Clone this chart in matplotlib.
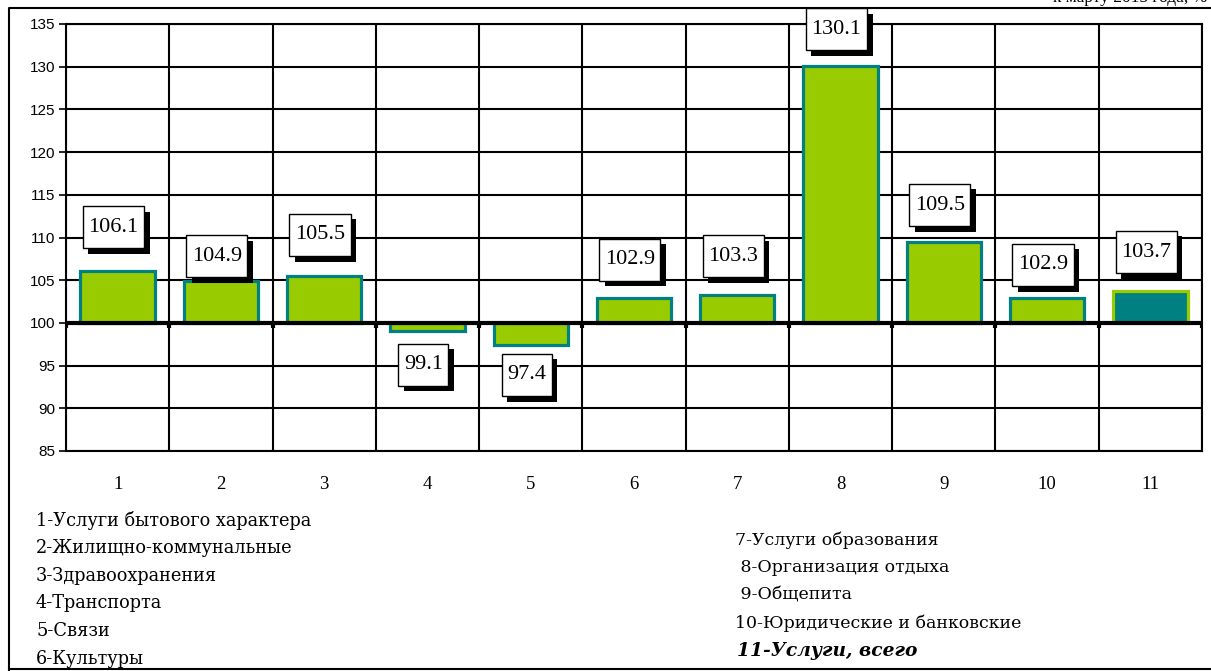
import matplotlib.pyplot as plt
from matplotlib import patheffects
from matplotlib.lines import Line2D

# Indizes der Dienstleistungen (1..11) und Werte in % zum Vorjahr
categories = ["1", "2", "3", "4", "5", "6", "7", "8", "9", "10", "11"]
values = [106.1, 104.9, 105.5, 99.1, 97.4, 102.9, 103.3, 130.1, 109.5, 102.9, 103.7]

legend_left = [
    "1-Услуги бытового характера",
    "2-Жилищно-коммунальные",
    "3-Здравоохранения",
    "4-Транспорта",
    "5-Связи",
    "6-Культуры",
]
legend_right = [
    "7-Услуги образования",
    " 8-Организация отдыха",
    " 9-Общепита",
    "10-Юридические и банковские",
]
legend_total = "11-Услуги, всего"

# Lage der Wertkaestchen (y in Achsenwerten)
label_y = [111.2, 107.8, 110.3, 95.1, 93.9, 107.4, 107.8, 134.4, 113.8, 106.8, 108.3]

lime = "#99cc00"
teal = "#008080"
base = 100

fig = plt.figure(figsize=(12.11, 6.71), dpi=100)
ax = fig.add_axes([66 / 1211, 1 - 451 / 671, 1136 / 1211, 427 / 671])

x = list(range(len(categories)))
heights = [v - base for v in values]
face = [lime] * (len(values) - 1) + [teal]
edge = [teal] * (len(values) - 1) + [lime]
ax.bar(x, heights, bottom=base, width=0.72, color=face, edgecolor=edge,
       linewidth=2.3, zorder=3)

ax.set_xlim(-0.5, len(categories) - 0.5)
ax.set_ylim(85, 135)
ax.set_yticks(range(85, 136, 5))
ax.set_xticks(x)
ax.set_xticklabels(categories, family="Liberation Serif", fontsize=13.5)
ax.tick_params(axis="x", length=0, pad=18)
ax.tick_params(axis="y", length=5, width=1.2, labelsize=11, pad=3)
for lab in ax.get_yticklabels():
    lab.set_family("Liberation Sans")

# Gitter: waagerecht bei jedem Tick, senkrecht an den Kategoriegrenzen
ax.grid(axis="y", color="black", linewidth=1.5, zorder=1)
for b in range(len(categories) + 1):
    ax.axvline(b - 0.5, color="black", linewidth=1.5, zorder=1)
for s in ax.spines.values():
    s.set_linewidth(1.5)

# Basislinie bei 100 mit kleinen Strichen
ax.axhline(base, color="black", linewidth=3, zorder=4)
ax.vlines([b - 0.5 for b in range(len(categories) + 1)], base - 0.6, base,
          color="black", linewidth=3, zorder=4)

shadow = [patheffects.SimplePatchShadow(offset=(4, -4), shadow_rgbFace="black", alpha=1),
          patheffects.Normal()]
for i, (v, ly) in enumerate(zip(values, label_y)):
    t = ax.text(i - 0.04, ly, f"{v:.1f}", ha="center", va="center",
                family="Liberation Serif", fontsize=16, zorder=6, clip_on=False,
                bbox=dict(boxstyle="square,pad=0.25", mutation_aspect=2.1,
                          facecolor="white", edgecolor="black", linewidth=1))
    t.get_bbox_patch().set_path_effects(shadow)

# Legende als Text unter dem Diagramm
for k, s in enumerate(legend_left):
    fig.text(36 / 1211, 1 - (520 + 27.8 * k) / 671, s, family="DejaVu Serif",
             fontsize=12.8, va="center")
for k, s in enumerate(legend_right):
    fig.text(735 / 1211, 1 - (540 + 27.7 * k) / 671, s, family="DejaVu Serif",
             fontsize=12.5, va="center")
fig.text(737 / 1211, 1 - 651 / 671, legend_total, family="DejaVu Serif",
         style="italic", weight="bold", fontsize=13.4, va="center")

# Ueberschrift (oben abgeschnitten) und Rahmen
fig.text(1207 / 1211, 1 - 1.5 / 671, "к марту 2015 года, %", family="Liberation Serif",
         fontsize=12.5, ha="right", va="baseline")
fig.add_artist(Line2D([9 / 1211, 9 / 1211, 1], [0, 1 - 8 / 671, 1 - 8 / 671],
                      color="black", linewidth=1.5))
fig.add_artist(Line2D([9 / 1211, 1], [1 - 669 / 671, 1 - 669 / 671],
                      color="black", linewidth=1.5))

fig.savefig("out.png", dpi=100)
